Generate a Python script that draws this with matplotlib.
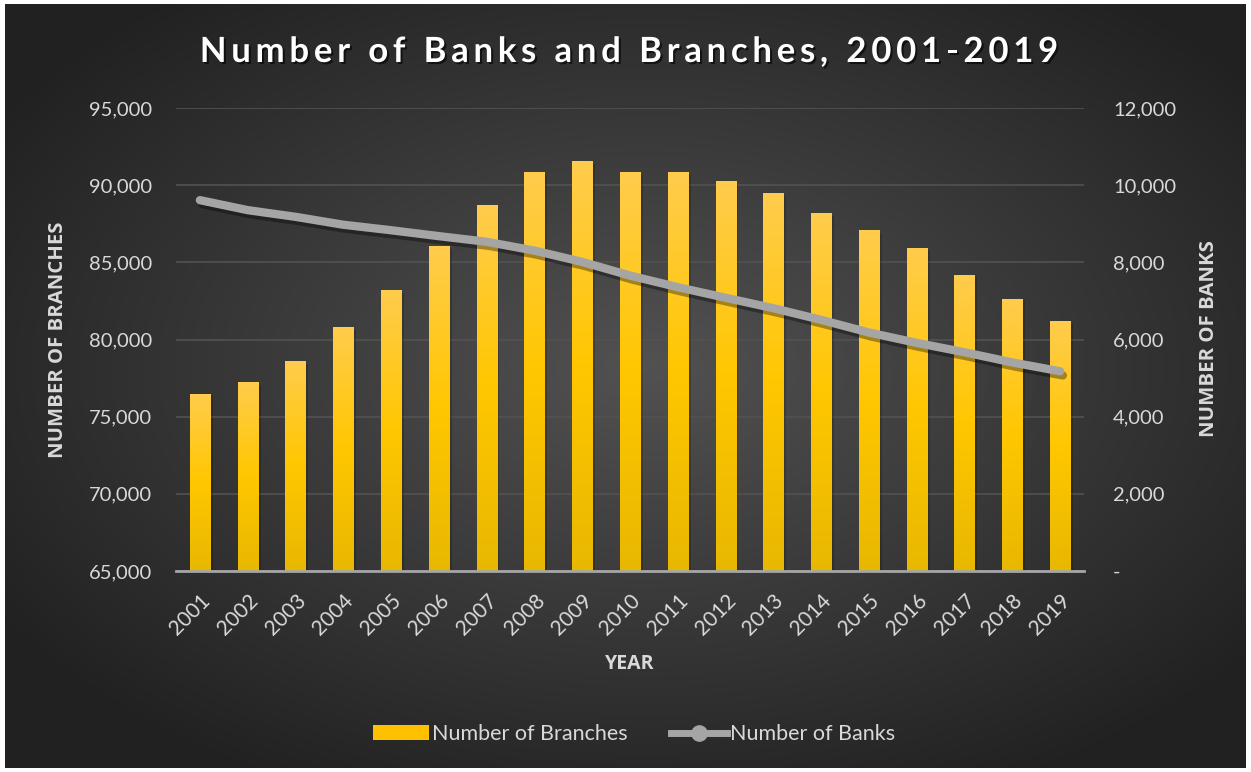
import numpy as np
import matplotlib
matplotlib.use("Agg")
import matplotlib.pyplot as plt
import matplotlib.patheffects as pe
from matplotlib.ticker import FuncFormatter, MultipleLocator
from matplotlib.lines import Line2D
from matplotlib.patches import Patch

plt.rcParams['font.family'] = ['Lato', 'DejaVu Sans']

years = [str(y) for y in range(2001, 2020)]
branches = [76500, 77250, 78600, 80800, 83200, 86050, 88700, 90850, 91550, 90850,
            90850, 90250, 89500, 88200, 87100, 85950, 84200, 82650, 81200]
banks = [9613, 9354, 9181, 8976, 8833, 8680, 8534, 8305, 8012, 7658,
         7357, 7083, 6812, 6509, 6182, 5913, 5670, 5406, 5177]
title = 'Number of Banks and Branches, 2001-2019'

txt = '#d9d9d9'
W, H = 1251, 772
fig = plt.figure(figsize=(W / 100, H / 100), dpi=100, facecolor='white')

# radial dark background
bg = fig.add_axes([0.004, 0.005, 0.992, 0.99])
yy, xx = np.mgrid[0:400, 0:640]
cx, cy = 330, 190
r = np.sqrt(((xx - cx) / 640) ** 2 + ((yy - cy) / 400) ** 2)
r = np.clip(r / 0.62, 0, 1)
lo, hi = np.array([0.32, 0.32, 0.32]), np.array([0.13, 0.13, 0.13])
img = lo[None, None, :] * (1 - r[..., None]) + hi[None, None, :] * r[..., None]
bg.imshow(img, aspect='auto', extent=[0, 1, 0, 1], interpolation='bilinear')
bg.set_axis_off()

ax = fig.add_axes([0.1407, 0.2604, 0.7258, 0.5996])
ax.set_facecolor('none')
x = np.arange(len(years))

ax.yaxis.set_major_locator(MultipleLocator(5000))
ax.grid(axis='y', color='#525252', linewidth=1.2)
ax.set_axisbelow(True)

# bars with vertical gradient
bw = 0.42
c_top = np.array([1.0, 0.80, 0.30])
c_mid = np.array([1.0, 0.78, 0.0])
c_bot = np.array([0.91, 0.72, 0.0])
cols = np.empty((256, 1, 3))
for i, t in enumerate(np.linspace(0, 1, 256)):
    if t < 0.5:
        cols[i, 0] = c_top * (1 - t / 0.5) + c_mid * (t / 0.5)
    else:
        cols[i, 0] = c_mid * (1 - (t - 0.5) / 0.5) + c_bot * ((t - 0.5) / 0.5)
bars = ax.bar(x, branches, width=bw, bottom=0, color='#ffc000', zorder=2,
              path_effects=[pe.SimplePatchShadow(offset=(2, -2), alpha=0.18, shadow_rgbFace='black'), pe.Normal()])
for b, v in zip(bars, branches):
    im = ax.imshow(cols, aspect='auto', extent=[b.get_x(), b.get_x() + bw, 65000, v],
                   zorder=3, interpolation='bilinear')
    im.set_clip_path(b)
ax.set_xlim(-0.5, len(years) - 0.5)
ax.set_ylim(65000, 95000)

for s in ['top', 'left', 'right']:
    ax.spines[s].set_visible(False)
ax.spines['bottom'].set_color('#a6a6a6')
ax.spines['bottom'].set_linewidth(2)
ax.spines['bottom'].set_zorder(5)

lab_font = dict(family=['Open Sans', 'DejaVu Sans'], fontweight='bold', color=txt)

ax.yaxis.set_major_formatter(FuncFormatter(lambda v, p: f'{int(v):,}'))
ax.tick_params(axis='y', length=0, labelsize=14.5, labelcolor=txt, pad=17)
ax.set_xticks(x)
ax.set_xticklabels(years, rotation=45, ha='right', rotation_mode='anchor')
ax.tick_params(axis='x', length=0, labelsize=15, labelcolor=txt, pad=14)
ax.set_ylabel('NUMBER OF BRANCHES', fontsize=14.6, **lab_font)
ax.yaxis.set_label_coords(-0.119, 0.499)
ax.set_xlabel('YEAR', fontsize=14, labelpad=11, **lab_font)

ax2 = ax.twinx()
ax2.set_ylim(0, 12000)
ax2.yaxis.set_major_locator(MultipleLocator(2000))
ax2.yaxis.set_major_formatter(FuncFormatter(lambda v, p: '-' if v == 0 else f'{int(v):,}'))
ax2.tick_params(axis='y', length=0, labelsize=14.5, labelcolor=txt, pad=21)
for s in ax2.spines.values():
    s.set_visible(False)
ax2.plot(x, banks, color='#a5a5a5', linewidth=6, solid_capstyle='round', zorder=6,
         path_effects=[pe.SimpleLineShadow(offset=(2, -3), alpha=0.35, shadow_color='black'), pe.Normal()])
ax2.set_ylabel('NUMBER OF BANKS', fontsize=14.7, **lab_font)
ax2.yaxis.set_label_coords(1.1265, 0.503)

# letter-spaced title, char by char
fig.canvas.draw()
rend = fig.canvas.get_renderer()
tsize, gap = 25, 4.7
shadow = [pe.withSimplePatchShadow(offset=(1.5, -1.5), alpha=0.6, shadow_rgbFace='black')]
widths = []
for ch in title:
    t = fig.text(0, 0, ch if ch != ' ' else 'n', fontsize=tsize, fontweight='bold')
    w = t.get_window_extent(rend).width
    if ch == ' ':
        w *= 0.45
    widths.append(w)
    t.remove()
total = sum(widths) + gap * (len(title) - 1)
xpos = 629 - total / 2
for ch, w in zip(title, widths):
    if ch != ' ':
        fig.text(xpos / W, 1 - 52 / H, ch, ha='left', va='center', fontsize=tsize,
                 fontweight='bold', color='white', path_effects=shadow)
    xpos += w + gap

handles = [Patch(facecolor='#ffc000', edgecolor='none'),
           Line2D([0], [0], color='#a5a5a5', lw=5, marker='o', markersize=11,
                  markerfacecolor='#a5a5a5', markeredgecolor='#a5a5a5')]
fig.legend(handles, ['Number of Branches', 'Number of Banks'], loc='center',
           bbox_to_anchor=(0.507, 0.049), ncol=2, frameon=False, fontsize=15.5,
           labelcolor=txt, handlelength=2.6, handletextpad=0.15, columnspacing=2.0)

fig.savefig('out.png', dpi=100, facecolor='white')
